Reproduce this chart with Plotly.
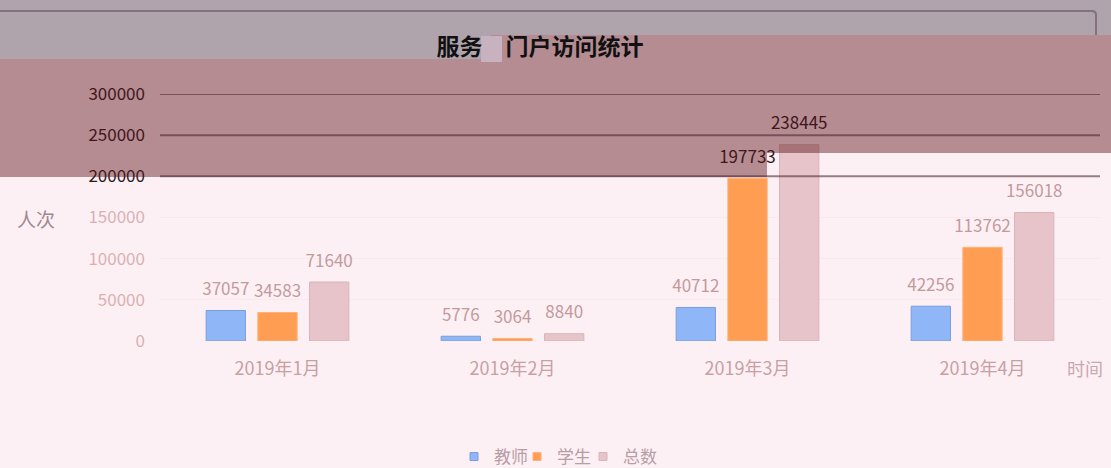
import plotly.graph_objects as go

# ---- data ----
months = ["2019年1月", "2019年2月", "2019年3月", "2019年4月"]
teachers = [37057, 5776, 40712, 42256]
students = [34583, 3064, 197733, 113762]
totals = [71640, 8840, 238445, 156018]
series_names = ["教师", "学生", "总数"]
y_ticks = [0, 50000, 100000, 150000, 200000, 250000, 300000]

# ---- styles ----
W, H = 1111, 468
ML, MR, MT, MB = 160, 11, 94, 127
PW, PH = W - ML - MR, H - MT - MB

def px(x):
    return (x - ML) / PW

def py(y):
    return (H - MB - y) / PH

PINK_TXT = "#c39a9c"
DARK_TXT = "#2a1a1e"
label_colors = {
    "教师": [PINK_TXT, PINK_TXT, PINK_TXT, PINK_TXT],
    "学生": [PINK_TXT, PINK_TXT, DARK_TXT, PINK_TXT],
    "总数": [PINK_TXT, PINK_TXT, DARK_TXT, PINK_TXT],
}
bar_fill = {"教师": "#8fb6f6", "学生": "#ff9d52", "总数": "#e6c4c9"}
bar_edge = {"教师": "#7b9ddc", "学生": "#fdb27a", "总数": "#d9b4ba"}
legend_ids = {"教师": "legend", "学生": "legend2", "总数": "legend3"}
legend_left = {"教师": 454, "学生": 517, "总数": 583}
font_family = "Noto Sans CJK SC, Noto Sans, sans-serif"

fig = go.Figure()
for name, vals in zip(series_names, [teachers, students, totals]):
    fig.add_trace(go.Bar(
        x=months, y=vals, name=name, showlegend=False,
        marker=dict(color=bar_fill[name], line=dict(color=bar_edge[name], width=1)),
        text=[f"<span style='font-size:17px'>{v}</span><br> " for v in vals],
        textposition="outside",
        textfont=dict(size=8, color=label_colors[name], family=font_family),
        constraintext="none", cliponaxis=False,
    ))
    # legend entry with a small square symbol
    fig.add_trace(go.Scatter(
        x=[None], y=[None], mode="markers", name=name, legend=legend_ids[name],
        marker=dict(symbol="square", size=8, color=bar_fill[name],
                    line=dict(color=bar_edge[name], width=1)),
    ))

tick_text = []
for v in y_ticks:
    c = DARK_TXT if v >= 200000 else "#dab0b2"
    tick_text.append(f"<span style='color:{c}'>{v}</span>")

shapes = []
# overlay bands (screen artefact in the reference)
GRAY = "rgba(80,69,85,0.45)"
MAUVE = "rgba(91,18,25,0.45)"
def rect(x0, y0, x1, y1, color):
    return dict(type="rect", xref="paper", yref="paper",
                x0=px(x0), x1=px(x1), y0=py(y1), y1=py(y0),
                fillcolor=color, line=dict(width=0), layer="above")

shapes.append(rect(0, 0, W, 35, GRAY))
shapes.append(rect(0, 35, 490, 59, GRAY))
shapes.append(rect(490, 35, W, 59, MAUVE))
shapes.append(rect(0, 59, W, 153, MAUVE))
shapes.append(rect(0, 153, 767, 177, MAUVE))
# frame line of the top strip
shapes.append(dict(type="path", xref="paper", yref="paper",
                   path=f"M {px(0)},{py(11)} L {px(1092)},{py(11)} Q {px(1096)},{py(11)} {px(1096)},{py(15)} L {px(1096)},{py(35)}",
                   line=dict(color="rgba(120,100,118,0.8)", width=2), layer="above"))
# censored character in the title
shapes.append(dict(type="rect", xref="paper", yref="paper",
                   x0=px(481), x1=px(502), y0=py(62), y1=py(36),
                   fillcolor="#c9b2bf", line=dict(width=0), layer="above"))
# gridlines visible through the band
for v in y_ticks:
    if v >= 200000:
        shapes.append(dict(type="line", xref="paper", yref="y", x0=0, x1=1, y0=v, y1=v,
                           line=dict(color="rgba(70,35,45,0.55)", width=2), layer="above"))

legend_style = dict(orientation="h", xanchor="left", y=py(457), yanchor="middle",
                    font=dict(size=17, color="#b89ca6", family=font_family),
                    itemwidth=30, bgcolor="rgba(0,0,0,0)")
legends = {}
for name in series_names:
    legends[legend_ids[name]] = dict(legend_style, x=px(legend_left[name]))

fig.update_layout(
    width=W, height=H,
    margin=dict(l=ML, r=MR, t=MT, b=MB, pad=0, autoexpand=False),
    paper_bgcolor="#fdf0f5", plot_bgcolor="#fdf0f5",
    barmode="group", bargap=0.34, bargroupgap=0.24,
    title=dict(text="服务\u3000门户访问统计", x=540 / W, xanchor="center",
               y=1 - 47 / H, yanchor="middle",
               font=dict(size=23, color="#111111", family=font_family, weight="bold")),
    font=dict(family=font_family),
    xaxis=dict(showgrid=False, showline=False, ticks="", ticklabelstandoff=15,
               tickfont=dict(size=18, color="#c8a0a2", family=font_family)),
    yaxis=dict(range=[0, 300000], tickvals=y_ticks, ticktext=tick_text,
               showgrid=True, gridcolor="#fbe8ee", zeroline=False,
               ticks="", ticklabelstandoff=14,
               tickfont=dict(size=17, color="#dab0b2", family=font_family)),
    shapes=shapes,
    annotations=[
        dict(text="人次", xref="paper", yref="paper", x=px(36), y=py(218),
             xanchor="center", yanchor="middle",
             showarrow=False, font=dict(size=19, color="#a08890", family=font_family)),
        dict(text="时间", xref="paper", yref="paper", x=px(1085), y=py(368),
             xanchor="center", yanchor="middle",
             showarrow=False, font=dict(size=18, color="#c8a8b0", family=font_family)),
    ],
    **legends,
)

fig.write_html("out.html", config={"displayModeBar": False},
               post_script="document.body.style.margin='0';")
